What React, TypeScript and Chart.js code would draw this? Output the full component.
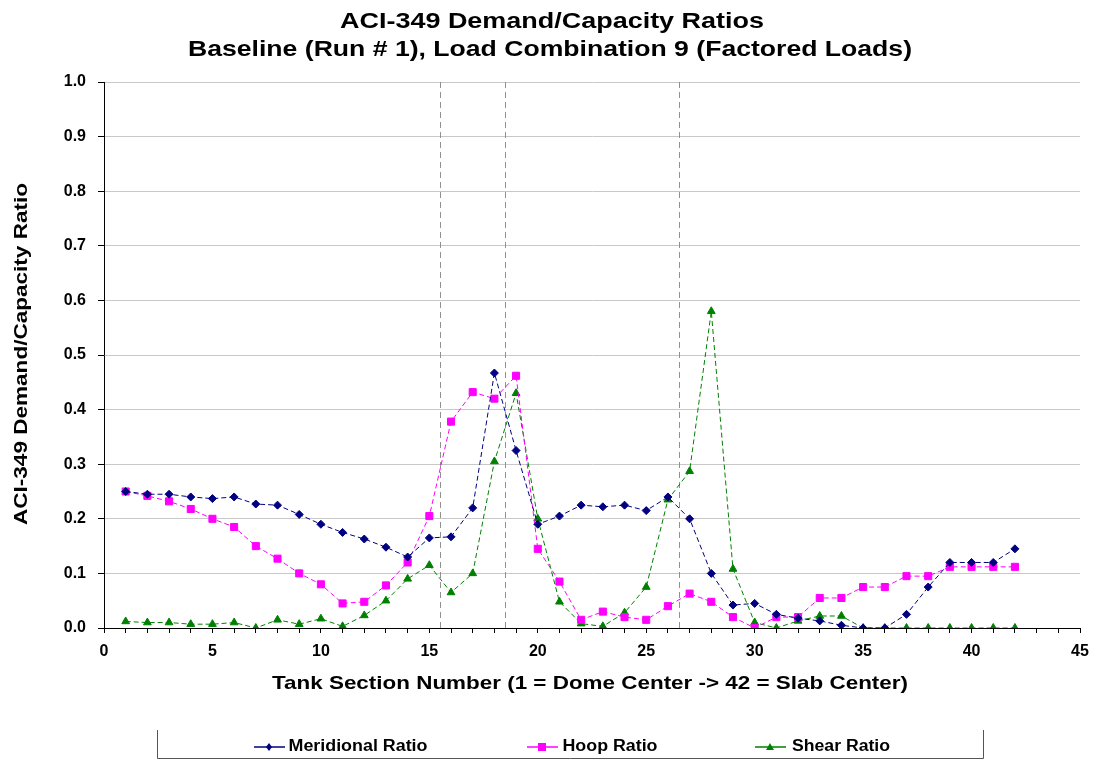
import React, { useEffect, useRef } from "react";
import { Chart, registerables } from "chart.js";

Chart.register(...registerables);

const sections = Array.from({ length: 42 }, (_, i) => i + 1);
const meridional = [0.25, 0.245, 0.245, 0.24, 0.237, 0.24, 0.227, 0.225, 0.208, 0.19, 0.175, 0.163, 0.148, 0.13, 0.165, 0.167, 0.22, 0.467, 0.325, 0.19, 0.205, 0.225, 0.222, 0.225, 0.215, 0.24, 0.2, 0.1, 0.042, 0.045, 0.025, 0.018, 0.013, 0.005, 0.0, 0.0, 0.025, 0.075, 0.12, 0.12, 0.12, 0.145];
const hoop = [0.25, 0.242, 0.232, 0.218, 0.2, 0.185, 0.15, 0.127, 0.1, 0.08, 0.045, 0.048, 0.078, 0.12, 0.205, 0.378, 0.432, 0.42, 0.462, 0.145, 0.085, 0.015, 0.03, 0.02, 0.015, 0.04, 0.063, 0.048, 0.02, 0.0, 0.02, 0.02, 0.055, 0.055, 0.075, 0.075, 0.095, 0.095, 0.112, 0.112, 0.112, 0.112];
const shear = [0.012, 0.01, 0.01, 0.007, 0.007, 0.01, 0.0, 0.015, 0.007, 0.017, 0.003, 0.023, 0.05, 0.09, 0.115, 0.065, 0.1, 0.305, 0.43, 0.2, 0.048, 0.008, 0.003, 0.028, 0.075, 0.235, 0.287, 0.58, 0.108, 0.01, 0.0, 0.013, 0.022, 0.022, 0.0, 0.0, 0.0, 0.0, 0.0, 0.0, 0.0, 0.0];
const markerLines = [15.5, 18.5, 26.5];
const titleLines = ["ACI-349 Demand/Capacity Ratios", "Baseline (Run # 1), Load Combination 9 (Factored Loads)"];
const xTitle = "Tank Section Number (1 = Dome Center -> 42 = Slab Center)";
const yTitle = "ACI-349 Demand/Capacity Ratio";
const seriesNames = ["Meridional Ratio", "Hoop Ratio", "Shear Ratio"];
const seriesColors = ["#000080", "#ff00ff", "#008000"];
const seriesShapes = ["rectRot", "rect", "triangle"];

const FONT = "'Liberation Sans', Arial, sans-serif";

function drawWide(ctx: CanvasRenderingContext2D, text: string, cx: number, cy: number, size: number, width: number) {
  ctx.save();
  ctx.font = `bold ${size}px ${FONT}`;
  ctx.textAlign = "center";
  ctx.textBaseline = "middle";
  const w = ctx.measureText(text).width;
  const k = width / w;
  ctx.translate(cx, cy);
  ctx.scale(k, 1);
  ctx.fillText(text, 0, 0);
  ctx.restore();
}

export default function App() {
  const ref = useRef<HTMLCanvasElement>(null);
  useEffect(() => {
    const canvas = ref.current!;
    const series = [meridional, hoop, shear];
    const sizes = [4, 5, 4.5];
    const decor = {
      id: "decor",
      beforeDatasetsDraw(chart: any) {
        const { ctx, chartArea, scales } = chart;
        ctx.save();
        ctx.strokeStyle = "#909090";
        ctx.lineWidth = 1;
        ctx.setLineDash([6, 4]);
        markerLines.forEach((v) => {
          const x = Math.round(scales.x.getPixelForValue(v)) + 0.5;
          ctx.beginPath();
          ctx.moveTo(x, chartArea.top);
          ctx.lineTo(x, chartArea.bottom);
          ctx.stroke();
        });
        ctx.restore();
      },
      afterDraw(chart: any) {
        const { ctx, chartArea } = chart;
        ctx.save();
        ctx.fillStyle = "#000";
        drawWide(ctx, titleLines[0], 552, 22, 22, 424);
        drawWide(ctx, titleLines[1], 550, 50, 22, 724);
        drawWide(ctx, xTitle, 590, 684, 19, 636);
        ctx.save();
        ctx.translate(22, 354);
        ctx.rotate(-Math.PI / 2);
        drawWide(ctx, yTitle, 0, 0, 18, 342);
        ctx.restore();
        // legend
        ctx.strokeStyle = "#555";
        ctx.lineWidth = 1;
        ctx.beginPath();
        ctx.moveTo(157.5, 730);
        ctx.lineTo(157.5, 758.5);
        ctx.lineTo(983.5, 758.5);
        ctx.lineTo(983.5, 730);
        ctx.stroke();
        const lineX = [254, 527, 755];
        const textC = [358, 610, 841];
        const textW = [139, 95, 98];
        seriesNames.forEach((name, i) => {
          const x0 = lineX[i];
          const y = 747;
          ctx.strokeStyle = seriesColors[i];
          ctx.lineWidth = 1.5;
          ctx.setLineDash([]);
          ctx.beginPath();
          ctx.moveTo(x0, y);
          ctx.lineTo(x0 + 31, y);
          ctx.stroke();
          ctx.fillStyle = seriesColors[i];
          const cx = x0 + 15;
          ctx.beginPath();
          if (i === 0) {
            ctx.moveTo(cx, y - 4); ctx.lineTo(cx + 3, y); ctx.lineTo(cx, y + 4); ctx.lineTo(cx - 3, y);
          } else if (i === 1) {
            ctx.rect(cx - 4, y - 4, 8, 8);
          } else {
            ctx.moveTo(cx, y - 4); ctx.lineTo(cx + 4, y + 3); ctx.lineTo(cx - 4, y + 3);
          }
          ctx.closePath();
          ctx.fill();
          ctx.fillStyle = "#000";
          drawWide(ctx, name, textC[i], y, 16, textW[i]);
        });
        ctx.restore();
      },
    };
    const chart = new Chart(canvas, {
      type: "line",
      data: {
        datasets: series.map((s, i) => ({
          label: seriesNames[i],
          data: s.map((v, j) => ({ x: sections[j], y: v })),
          borderColor: seriesColors[i],
          backgroundColor: seriesColors[i],
          borderWidth: 1,
          borderDash: [5, 3],
          pointStyle: seriesShapes[i] as any,
          pointRadius: sizes[i],
          pointBorderWidth: 1,
          tension: 0,
        })),
      },
      options: {
        animation: false,
        responsive: false,
        layout: { padding: { left: 0, right: 23, top: 82, bottom: 53 } },
        plugins: { legend: { display: false }, title: { display: false }, tooltip: { enabled: false } },
        scales: {
          x: {
            type: "linear",
            min: 0,
            max: 45,
            ticks: {
              stepSize: 1,
              autoSkip: false,
              color: "#000",
              font: { family: FONT, size: 16, weight: "bold" },
              padding: 9,
              maxRotation: 0,
              callback: (v: any) => (Number(v) % 5 === 0 ? String(v) : ""),
            },
            grid: { drawOnChartArea: false, drawTicks: true, tickLength: 5, tickColor: "#000" },
            border: { color: "#000", width: 1 },
            afterFit(scale: any) { scale.height = 80; },
          },
          y: {
            min: 0,
            max: 1,
            ticks: { stepSize: 0.1, color: "#000", font: { family: FONT, size: 16, weight: "bold" }, padding: 12, callback: (v: any) => Number(v).toFixed(1) },
            grid: { color: "#c8c8c8", tickColor: "#000", tickLength: 6 },
            border: { color: "#000", width: 1 },
            afterFit(scale: any) { scale.width = 104; },
          },
        },
      },
      plugins: [decor],
    });
    return () => chart.destroy();
  }, []);
  return (
    <div style={{ position: "fixed", left: 0, top: 0, width: 1103, height: 761, background: "#fff" }}>
      <canvas ref={ref} width={1103} height={761} style={{ width: 1103, height: 761, display: "block" }} />
    </div>
  );
}
